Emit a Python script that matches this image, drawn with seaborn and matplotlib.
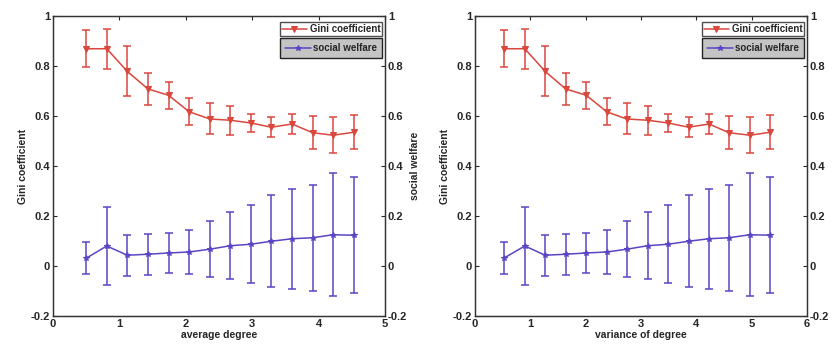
import numpy as np
import pandas as pd
import matplotlib
matplotlib.use("Agg")
import matplotlib.pyplot as plt
import seaborn as sns

# values
avg_degree = [0.5, 0.81, 1.12, 1.43, 1.74, 2.05, 2.36, 2.67, 2.98, 3.29, 3.6, 3.91, 4.22, 4.53]
var_degree = [0.52, 0.9, 1.27, 1.64, 2.01, 2.38, 2.74, 3.12, 3.49, 3.86, 4.23, 4.59, 4.97, 5.34]
gini = [0.869, 0.869, 0.778, 0.708, 0.683, 0.617, 0.588, 0.583, 0.572, 0.555, 0.568, 0.533, 0.523, 0.535]
gini_err = [0.075, 0.08, 0.1, 0.065, 0.054, 0.053, 0.062, 0.058, 0.036, 0.039, 0.04, 0.066, 0.072, 0.068]
welfare = [0.031, 0.08, 0.043, 0.047, 0.052, 0.056, 0.067, 0.081, 0.087, 0.099, 0.109, 0.113, 0.125, 0.123]
welfare_err = [0.063, 0.155, 0.082, 0.082, 0.08, 0.089, 0.112, 0.135, 0.156, 0.183, 0.2, 0.212, 0.246, 0.233]
yticks = [-0.2, 0, 0.2, 0.4, 0.6, 0.8, 1]
ytick_labels = ["-0.2", "0", "0.2", "0.4", "0.6", "0.8", "1"]

red = "#d9473d"
blue = "#5a45c4"

sns.set_style("white")
plt.rcParams['font.family'] = ['Liberation Sans', 'DejaVu Sans']
plt.rcParams['font.weight'] = 'bold'
plt.rcParams['axes.labelweight'] = 'bold'

fig = plt.figure(figsize=(8.33, 3.49), dpi=100)

panels = [
    (avg_degree, "average degree", 5, [0.0636, 0.0946, 0.3986, 0.8596], True),
    (var_degree, "variance of degree", 6, [0.5702, 0.0946, 0.3986, 0.8596], False),
]

for xs, xlabel, xmax, pos, right_label in panels:
    df = pd.DataFrame({"x": xs, "gini": gini, "gini_err": gini_err,
                       "welfare": welfare, "welfare_err": welfare_err})
    ax = fig.add_axes(pos)
    ax2 = ax.twinx()

    sns.lineplot(data=df, x="x", y="gini", ax=ax, color=red, marker="v",
                 markersize=5, markeredgecolor=red, linewidth=1.1,
                 label="Gini coefficient", legend=False)
    ax.errorbar(df["x"], df["gini"], yerr=df["gini_err"], fmt="none",
                ecolor=red, elinewidth=1.1, capsize=3, capthick=1.1)

    sns.lineplot(data=df, x="x", y="welfare", ax=ax2, color=blue, marker="*",
                 markersize=4, markeredgecolor=blue, linewidth=1.1,
                 label="social welfare", legend=False)
    ax2.errorbar(df["x"], df["welfare"], yerr=df["welfare_err"], fmt="none",
                 ecolor=blue, elinewidth=1.1, capsize=3, capthick=1.1)

    for a in (ax, ax2):
        a.set_ylim(-0.2, 1)
        a.set_yticks(yticks)
        a.set_yticklabels(ytick_labels)
        a.set_xlim(0, xmax)
        a.tick_params(direction="in", length=3, labelsize=8, width=0.8)
        for s in a.spines.values():
            s.set_color("#333333")
            s.set_linewidth(0.9)
    ax.set_xticks(range(xmax + 1))
    ax.tick_params(top=True, pad=2)
    ax2.tick_params(pad=2)
    ax.set_xlabel(xlabel, fontsize=7.5, labelpad=1)
    ax.set_ylabel("Gini coefficient", fontsize=7.5, labelpad=2)
    if right_label:
        ax2.set_ylabel("social welfare", fontsize=7.5, labelpad=2)
    else:
        ax2.set_ylabel("")

    h1, l1 = ax.get_legend_handles_labels()
    h2, l2 = ax2.get_legend_handles_labels()
    leg1 = ax.legend(h1, l1, loc="upper right", bbox_to_anchor=(0.992, 0.98),
                     fontsize=7, frameon=True, fancybox=False, borderpad=0.2,
                     handlelength=2.6, handletextpad=0.3, borderaxespad=0)
    leg1.get_frame().set_edgecolor("#222222")
    leg1.get_frame().set_facecolor("white")
    leg2 = ax2.legend(h2, l2, loc="upper right", bbox_to_anchor=(0.992, 0.925),
                      fontsize=7, frameon=True, fancybox=False, borderpad=0.5,
                      handlelength=2.6, handletextpad=0.3, borderaxespad=0)
    leg2.get_frame().set_edgecolor("#222222")
    leg2.get_frame().set_facecolor("#c4c4c4")
    leg2.get_frame().set_alpha(1)

fig.savefig("out.png", dpi=100)
